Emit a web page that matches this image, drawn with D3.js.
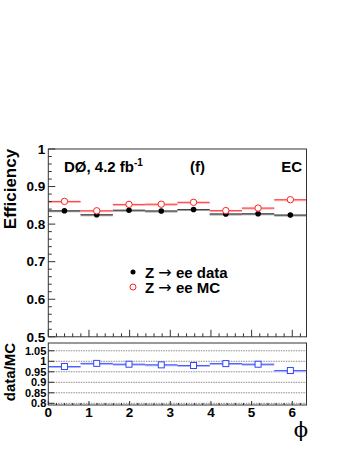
<!DOCTYPE html>
<html><head><meta charset="utf-8">
<script src="https://cdn.jsdelivr.net/npm/d3@7"></script>
<style>body{margin:0;background:#fff}svg{display:block}text{font-family:"Liberation Sans",Arial,sans-serif;font-weight:bold;fill:#000}</style>
</head><body><div id="c"></div>
<script>
const nBins = 8;
const binEdgesMax = 6.35;
const dataEff = [0.8355, 0.825, 0.837, 0.835, 0.839, 0.827, 0.8275, 0.824];
const mcEff   = [0.8605, 0.8355, 0.8525, 0.853, 0.858, 0.836, 0.8427, 0.865];
const ratio   = [0.975, 0.990, 0.986, 0.983, 0.980, 0.989, 0.986, 0.956];
const xTicks = [0,1,2,3,4,5,6];
const yTicksTop = [0.5,0.6,0.7,0.8,0.9,1];
const yTicksBot = [0.8,0.85,0.9,0.95,1,1.05];
const yTickLabelsBot = ["0.8","0.85","0.9","0.95","1","1.05"];

const W=349,H=451;
const svg=d3.select("#c").append("svg").attr("width",W).attr("height",H);
const L=48.3,R=306.5;
const x=d3.scaleLinear().domain([0,binEdgesMax]).range([L,R]);
const yT=d3.scaleLinear().domain([0.5,1]).range([336.8,149]);
const yB=d3.scaleLinear().domain([0.792,1.087]).range([405,343]);
const bw=binEdgesMax/nBins;
const bins=d3.range(nBins).map(i=>({lo:i*bw,hi:(i+1)*bw,c:(i+0.5)*bw,i}));

// ---- bottom panel grid
const gB=svg.append("g");
gB.selectAll("line.grid").data(yTicksBot).join("line")
  .attr("x1",L).attr("x2",R).attr("y1",d=>yB(d)).attr("y2",d=>yB(d))
  .attr("stroke","#8a8a8a").attr("stroke-width",1).attr("stroke-dasharray","1.5,1");

// ---- top panel lines
const gT=svg.append("g");
gT.selectAll("line.d").data(bins).join("line")
  .attr("x1",d=>x(d.lo)).attr("x2",d=>x(d.hi)).attr("y1",d=>yT(dataEff[d.i])+0.5).attr("y2",d=>yT(dataEff[d.i])+0.5)
  .attr("stroke","#9a9a9a").attr("stroke-width",2);
gT.selectAll("line.d2").data(bins).join("line")
  .attr("x1",d=>x(d.lo)).attr("x2",d=>x(d.hi)).attr("y1",d=>yT(dataEff[d.i])).attr("y2",d=>yT(dataEff[d.i]))
  .attr("stroke","#444").attr("stroke-width",1);
gT.selectAll("line.m").data(bins).join("line")
  .attr("x1",d=>x(d.lo)).attr("x2",d=>x(d.hi)).attr("y1",d=>yT(mcEff[d.i])+0.5).attr("y2",d=>yT(mcEff[d.i])+0.5)
  .attr("stroke","#ffb0b0").attr("stroke-width",2);
gT.selectAll("line.m2").data(bins).join("line")
  .attr("x1",d=>x(d.lo)).attr("x2",d=>x(d.hi)).attr("y1",d=>yT(mcEff[d.i])).attr("y2",d=>yT(mcEff[d.i]))
  .attr("stroke","#ff4040").attr("stroke-width",1);
gT.selectAll("circle.d").data(bins).join("circle")
  .attr("cx",d=>x(d.c)).attr("cy",d=>yT(dataEff[d.i])).attr("r",2.8).attr("fill","#000");
gT.selectAll("circle.m").data(bins).join("circle")
  .attr("cx",d=>x(d.c)).attr("cy",d=>yT(mcEff[d.i])).attr("r",3.2).attr("fill","#fff").attr("stroke","#ff2020").attr("stroke-width",1);

// ---- bottom panel lines
gB.selectAll("line.r").data(bins).join("line")
  .attr("x1",d=>x(d.lo)).attr("x2",d=>x(d.hi)).attr("y1",d=>yB(ratio[d.i])+0.5).attr("y2",d=>yB(ratio[d.i])+0.5)
  .attr("stroke","#b0b8ff").attr("stroke-width",2);
gB.selectAll("line.r2").data(bins).join("line")
  .attr("x1",d=>x(d.lo)).attr("x2",d=>x(d.hi)).attr("y1",d=>yB(ratio[d.i])).attr("y2",d=>yB(ratio[d.i]))
  .attr("stroke","#4a5cff").attr("stroke-width",1);
gB.selectAll("rect.r").data(bins).join("rect")
  .attr("x",d=>x(d.c)-3).attr("y",d=>yB(ratio[d.i])-3).attr("width",6).attr("height",6)
  .attr("fill","#fff").attr("stroke","#3344ff").attr("stroke-width",1);

// ---- frames
svg.append("rect").attr("x",L).attr("y",149).attr("width",R-L).attr("height",336.8-149)
  .attr("fill","none").attr("stroke","#333").attr("stroke-width",1);
svg.append("rect").attr("x",L).attr("y",343).attr("width",R-L).attr("height",405-343)
  .attr("fill","none").attr("stroke","#333").attr("stroke-width",1);

// ---- ticks top panel
const tk=svg.append("g").attr("stroke","#333").attr("stroke-width",1);
const minorX=d3.range(0,6.35,0.2).filter(v=>Math.abs(v-Math.round(v))>1e-6);
tk.selectAll("line.xM").data(xTicks).join("line")
  .attr("x1",d=>x(d)).attr("x2",d=>x(d)).attr("y1",336.8).attr("y2",336.8-7);
tk.selectAll("line.xm").data(minorX).join("line")
  .attr("x1",d=>x(d)).attr("x2",d=>x(d)).attr("y1",336.8).attr("y2",336.8-3.5);
const minorYT=d3.range(0.5,1.0001,0.02).filter(v=>Math.abs(v*10-Math.round(v*10))>1e-6);
tk.selectAll("line.yM").data(yTicksTop).join("line")
  .attr("x1",L).attr("x2",L+7).attr("y1",d=>yT(d)).attr("y2",d=>yT(d));
tk.selectAll("line.ym").data(minorYT).join("line")
  .attr("x1",L).attr("x2",L+3.5).attr("y1",d=>yT(d)).attr("y2",d=>yT(d));
// ticks bottom panel
tk.selectAll("line.bxM").data(xTicks).join("line")
  .attr("x1",d=>x(d)).attr("x2",d=>x(d)).attr("y1",405).attr("y2",405-4);
tk.selectAll("line.bxm").data(minorX).join("line")
  .attr("x1",d=>x(d)).attr("x2",d=>x(d)).attr("y1",405).attr("y2",405-2);
tk.selectAll("line.byM").data(yTicksBot).join("line")
  .attr("x1",L).attr("x2",L+6).attr("y1",d=>yB(d)).attr("y2",d=>yB(d));

// ---- tick labels
svg.append("g").selectAll("text").data(yTicksTop).join("text")
  .attr("x",L-3).attr("y",d=>yT(d)+4.8).attr("text-anchor","end").attr("font-size",13.5)
  .text(d=>d3.format("")(d));
svg.append("g").selectAll("text").data(yTicksBot).join("text")
  .attr("x",L-2).attr("y",d=>yB(d)+3.9).attr("text-anchor","end").attr("font-size",11)
  .text((d,i)=>yTickLabelsBot[i]);
svg.append("g").selectAll("text").data(xTicks).join("text")
  .attr("x",d=>x(d)).attr("y",416.5).attr("text-anchor","middle").attr("font-size",13.5)
  .text(d=>d);

// ---- axis titles
svg.append("text").attr("transform","translate(16,189) rotate(-90)").attr("text-anchor","middle")
  .attr("font-size",17).text("Efficiency");
svg.append("text").attr("transform","translate(15,372) rotate(-90)").attr("text-anchor","middle")
  .attr("font-size",15).text("data/MC");
svg.append("text").attr("x",301).attr("y",437).attr("text-anchor","middle")
  .attr("font-size",21).style("font-weight","normal").style("font-family","'DejaVu Serif',serif").text("\u03d5");

// ---- labels
const lab=svg.append("text").attr("x",64).attr("y",171.5).attr("font-size",15);
lab.append("tspan").text("DØ, 4.2 fb");
lab.append("tspan").attr("dy",-6).attr("font-size",10).text("-1");
svg.append("text").attr("x",190).attr("y",171.5).attr("font-size",15).text("(f)");
svg.append("text").attr("x",302).attr("y",171.5).attr("text-anchor","end").attr("font-size",15).text("EC");

// ---- legend
svg.append("circle").attr("cx",133).attr("cy",272).attr("r",2.5).attr("fill","#000");
svg.append("circle").attr("cx",133).attr("cy",287).attr("r",3).attr("fill","#fff").attr("stroke","#ff2020");
function legendText(y, rest){
  const t=svg.append("text").attr("x",145).attr("y",y).attr("font-size",15);
  t.append("tspan").text("Z ");
  t.append("tspan").style("font-family","'DejaVu Sans',sans-serif").style("font-weight","normal").attr("font-size",16).text("\u2192");
  t.append("tspan").text(" "+rest);
}
legendText(277.5,"ee data");
legendText(292.5,"ee MC");
</script></body></html>
